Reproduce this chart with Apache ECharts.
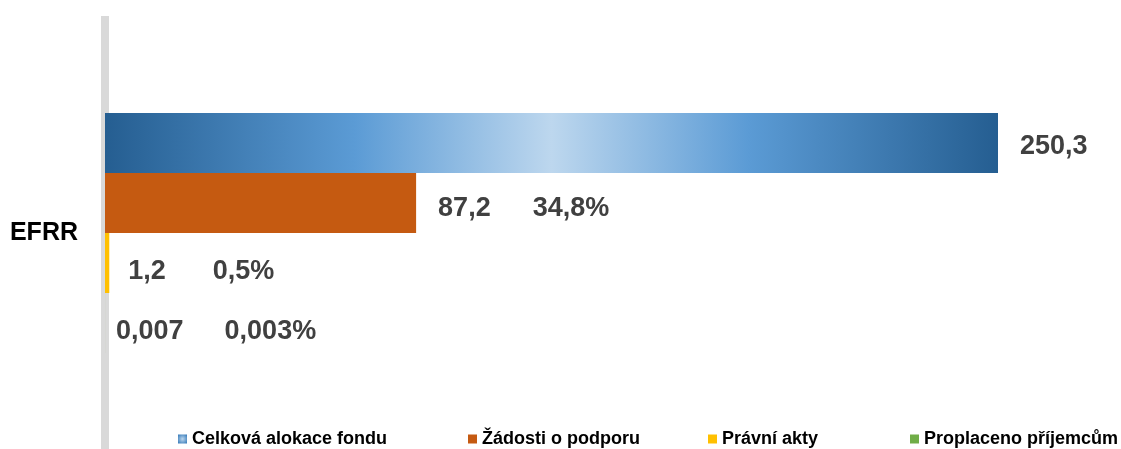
<!DOCTYPE html>
<html>
<head>
<meta charset="utf-8">
<script src="https://cdn.jsdelivr.net/npm/echarts@6/dist/echarts.min.js"></script>
<style>
  html, body { margin: 0; padding: 0; background: #fff; }
  #chart { width: 1121px; height: 449px; }
</style>
</head>
<body>
<div id="chart"></div>
<script>
  const categories = ['EFRR'];
  const seriesNames = ['Celková alokace fondu', 'Žádosti o podporu', 'Právní akty', 'Proplaceno příjemcům'];
  const values = [250.3, 87.2, 1.2, 0.007];
  const valueLabels = ['250,3', '87,2', '1,2', '0,007'];
  const shareLabels = ['', '34,8%', '0,5%', '0,003%'];

  const blueFill = new echarts.graphic.LinearGradient(0, 0, 1, 0, [
    { offset: 0, color: '#255e91' },
    { offset: 0.28, color: '#5b9bd5' },
    { offset: 0.5, color: '#bdd7ee' },
    { offset: 0.72, color: '#5b9bd5' },
    { offset: 1, color: '#255e91' }
  ]);
  const blueIcon = new echarts.graphic.RadialGradient(0.5, 0.5, 0.7, [
    { offset: 0, color: '#bdd7ee' },
    { offset: 1, color: '#2e75b6' }
  ]);
  const colors = [blueFill, '#c55a11', '#ffc000', '#70ad47'];
  const iconColors = [blueIcon, '#c55a11', '#ffc000', '#70ad47'];
  const labelDist = [22, 22, 19, 11];
  const labelDrop = [4, 6, 9, 9];
  const pctGap = [42, 42, 47, 41];
  const legendLeft = [173, 463, 703, 905];

  var myChart = echarts.init(document.getElementById('chart'));

  var series = seriesNames.map(function (name, i) {
    return {
      name: name,
      type: 'bar',
      barWidth: 60,
      barGap: 0,
      data: [values[i]],
      itemStyle: { color: colors[i] },
      label: {
        show: true,
        position: 'right',
        distance: labelDist[i],
        offset: [0, labelDrop[i]],
        formatter: function () {
          return shareLabels[i] ? '{v|' + valueLabels[i] + '}{p|' + shareLabels[i] + '}' : '{v|' + valueLabels[i] + '}';
        },
        rich: {
          v: { fontFamily: 'Liberation Sans', fontWeight: 'bold', fontSize: 27, color: '#404040' },
          p: { fontFamily: 'Liberation Sans', fontWeight: 'bold', fontSize: 27, color: '#404040', padding: [0, 0, 0, pctGap[i]] }
        }
      }
    };
  });

  var legends = seriesNames.map(function (name, i) {
    return {
      data: [{ name: name, itemStyle: { color: iconColors[i] } }],
      left: legendLeft[i],
      top: 425,
      icon: 'rect',
      itemWidth: 9,
      itemHeight: 9,
      itemGap: 5,
      textStyle: { fontFamily: 'Liberation Sans', fontWeight: 'bold', fontSize: 18, color: '#000' }
    };
  });

  var option = {
    animation: false,
    grid: { left: 105, right: 123, top: 16, bottom: -1, outerBoundsMode: 'none' },
    legend: legends,
    xAxis: {
      type: 'value',
      min: 0,
      max: 250.3,
      show: false
    },
    yAxis: {
      type: 'category',
      data: categories,
      inverse: true,
      offset: 4,
      axisLine: { show: true, lineStyle: { color: '#d9d9d9', width: 8, cap: 'butt' } },
      axisTick: { show: false },
      axisLabel: { margin: 23, fontFamily: 'Liberation Sans', fontWeight: 'bold', fontSize: 25, color: '#000' }
    },
    series: series
  };

  myChart.setOption(option);
</script>
</body>
</html>
